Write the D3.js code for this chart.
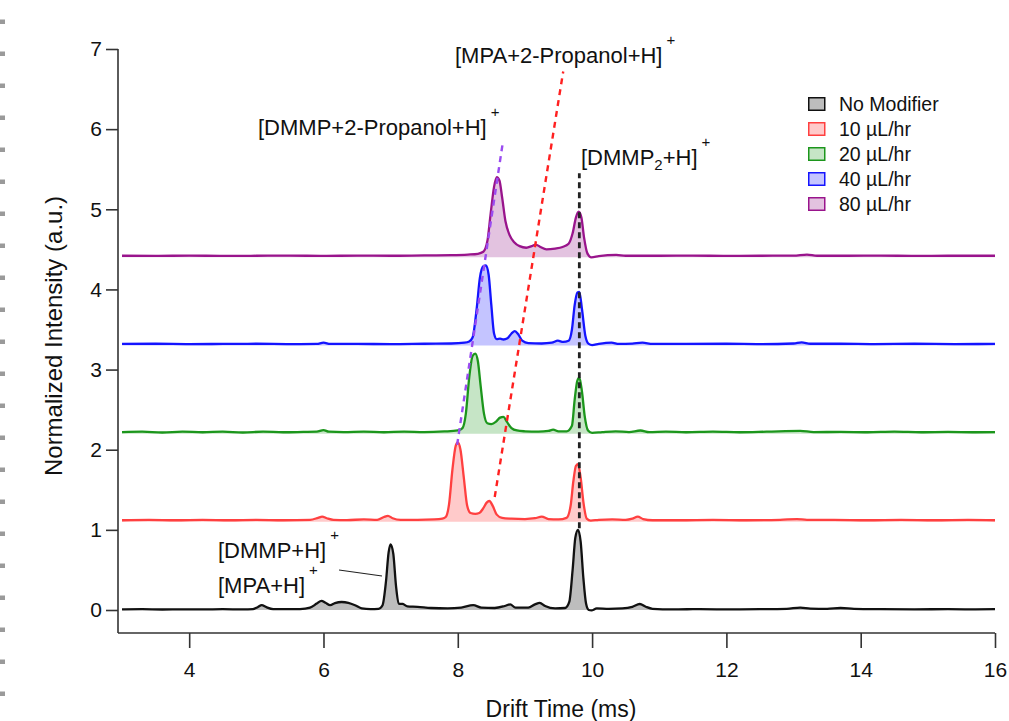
<!DOCTYPE html>
<html>
<head>
<meta charset="utf-8">
<script src="https://cdn.jsdelivr.net/npm/d3@7"></script>
<style>
  body { margin: 0; background: #fff; }
  svg { display: block; }
  text { font-family: "Liberation Sans", Arial, Helvetica, sans-serif; fill: #111; }
</style>
</head>
<body>
<svg id="chart" width="1009" height="721"></svg>
<script>
// ---- data -------------------------------------------------------------
const seriesNames = ["No Modifier", "10 µL/hr", "20 µL/hr", "40 µL/hr", "80 µL/hr"];
// vertical offset of each trace (normalized intensity units)
const offsets = [0, 1.1, 2.2, 3.3, 4.4];
const xTicks = [4, 6, 8, 10, 12, 14, 16];
const yTicks = [0, 1, 2, 3, 4, 5, 6, 7];

// [drift time (ms), intensity above the trace offset]
const noModifier = [[3.0,0.008],[3.3,0.01],[3.6,0.006],[3.9,0.009],[4.2,0.007],[4.5,0.01],[4.8,0.008],[4.95,0.012],[5.02,0.035],[5.08,0.06],[5.15,0.035],[5.25,0.012],[5.45,0.01],[5.65,0.012],[5.8,0.03],[5.9,0.08],[5.97,0.115],[6.03,0.09],[6.1,0.06],[6.17,0.085],[6.27,0.1],[6.37,0.09],[6.47,0.06],[6.57,0.02],[6.7,0.012],[6.82,0.015],[6.88,0.06],[6.93,0.35],[6.97,0.72],[7.0,0.82],[7.04,0.7],[7.08,0.3],[7.12,0.08],[7.18,0.075],[7.25,0.045],[7.4,0.04],[7.6,0.025],[7.85,0.02],[8.05,0.03],[8.23,0.06],[8.35,0.03],[8.55,0.025],[8.7,0.05],[8.78,0.07],[8.86,0.03],[9.05,0.03],[9.15,0.07],[9.22,0.09],[9.3,0.05],[9.45,0.02],[9.6,0.025],[9.66,0.1],[9.71,0.5],[9.75,0.9],[9.79,1.0],[9.83,0.85],[9.87,0.4],[9.91,0.08],[9.95,0.0],[9.99,-0.005],[10.07,0.02],[10.25,0.015],[10.45,0.02],[10.6,0.04],[10.71,0.075],[10.8,0.04],[10.9,0.015],[11.2,0.008],[11.6,0.01],[12.0,0.008],[12.5,0.01],[12.9,0.015],[13.1,0.03],[13.25,0.018],[13.5,0.015],[13.7,0.025],[13.9,0.015],[14.3,0.01],[14.8,0.008],[15.3,0.01],[15.7,0.008],[16.0,0.01]];

const flow10 = [[3.0,0.02],[3.4,0.025],[3.8,0.02],[4.2,0.025],[4.6,0.02],[5.0,0.025],[5.4,0.02],[5.8,0.025],[5.92,0.05],[5.98,0.065],[6.05,0.045],[6.15,0.025],[6.35,0.022],[6.6,0.03],[6.8,0.025],[6.9,0.06],[6.96,0.075],[7.03,0.045],[7.15,0.025],[7.4,0.025],[7.65,0.03],[7.77,0.04],[7.82,0.06],[7.87,0.22],[7.92,0.65],[7.97,0.95],[8.0,0.99],[8.04,0.9],[8.09,0.55],[8.14,0.2],[8.19,0.11],[8.26,0.1],[8.32,0.11],[8.38,0.17],[8.43,0.24],[8.47,0.26],[8.52,0.2],[8.58,0.09],[8.66,0.05],[8.8,0.04],[9.0,0.035],[9.15,0.045],[9.25,0.065],[9.35,0.035],[9.5,0.03],[9.62,0.05],[9.68,0.2],[9.72,0.5],[9.76,0.7],[9.79,0.72],[9.83,0.55],[9.87,0.25],[9.92,0.04],[9.98,0.015],[10.1,0.025],[10.3,0.03],[10.5,0.025],[10.6,0.04],[10.68,0.065],[10.76,0.035],[10.9,0.02],[11.3,0.02],[11.8,0.025],[12.3,0.02],[12.8,0.025],[13.05,0.035],[13.2,0.025],[13.6,0.025],[14.1,0.02],[14.6,0.025],[15.1,0.02],[15.6,0.025],[16.0,0.02]];

const flow20 = [[3.0,0.02],[3.3,0.025],[3.6,0.015],[3.9,0.025],[4.2,0.018],[4.5,0.025],[4.8,0.015],[5.1,0.025],[5.4,0.018],[5.7,0.022],[5.9,0.025],[6.0,0.045],[6.08,0.025],[6.3,0.02],[6.6,0.025],[6.9,0.018],[7.2,0.025],[7.5,0.02],[7.8,0.028],[8.0,0.04],[8.07,0.07],[8.12,0.25],[8.17,0.7],[8.22,0.97],[8.26,1.0],[8.3,0.9],[8.34,0.6],[8.39,0.25],[8.44,0.13],[8.5,0.12],[8.57,0.15],[8.63,0.2],[8.68,0.21],[8.73,0.15],[8.8,0.07],[8.88,0.04],[9.0,0.03],[9.2,0.025],[9.35,0.035],[9.42,0.05],[9.5,0.03],[9.62,0.03],[9.7,0.1],[9.74,0.42],[9.78,0.66],[9.81,0.7],[9.85,0.52],[9.89,0.22],[9.94,0.04],[10.0,0.01],[10.15,0.02],[10.35,0.03],[10.55,0.02],[10.72,0.04],[10.85,0.02],[11.1,0.025],[11.4,0.018],[11.8,0.025],[12.2,0.018],[12.6,0.025],[13.1,0.035],[13.3,0.02],[13.7,0.022],[14.1,0.018],[14.5,0.025],[14.9,0.018],[15.3,0.022],[15.7,0.018],[16.0,0.02]];

const flow40 = [[3.0,0.02],[3.5,0.022],[4.0,0.018],[4.5,0.02],[5.0,0.022],[5.5,0.018],[5.9,0.02],[6.0,0.035],[6.1,0.02],[6.5,0.02],[7.0,0.018],[7.5,0.022],[7.9,0.025],[8.1,0.035],[8.17,0.05],[8.22,0.1],[8.28,0.45],[8.33,0.85],[8.38,0.99],[8.42,1.0],[8.46,0.88],[8.5,0.5],[8.54,0.15],[8.58,0.08],[8.63,0.085],[8.68,0.075],[8.74,0.09],[8.8,0.15],[8.85,0.18],[8.9,0.14],[8.96,0.06],[9.05,0.03],[9.25,0.025],[9.4,0.035],[9.49,0.06],[9.57,0.045],[9.65,0.06],[9.7,0.2],[9.74,0.5],[9.78,0.66],[9.81,0.67],[9.85,0.45],[9.9,0.12],[9.95,0.02],[10.0,0.005],[10.1,0.02],[10.29,0.035],[10.4,0.02],[10.6,0.025],[10.75,0.035],[10.9,0.02],[11.4,0.02],[12.0,0.022],[12.5,0.018],[13.0,0.025],[13.12,0.04],[13.25,0.022],[13.7,0.022],[14.2,0.018],[14.8,0.022],[15.4,0.018],[16.0,0.02]];

const flow80 = [[3.0,0.02],[3.5,0.018],[4.0,0.022],[4.5,0.018],[5.0,0.02],[5.5,0.022],[6.0,0.018],[6.5,0.022],[7.0,0.02],[7.5,0.025],[7.9,0.028],[8.15,0.035],[8.3,0.045],[8.38,0.07],[8.44,0.2],[8.49,0.55],[8.54,0.88],[8.58,1.0],[8.62,0.96],[8.66,0.75],[8.71,0.45],[8.77,0.28],[8.84,0.19],[8.92,0.14],[9.02,0.12],[9.1,0.14],[9.16,0.16],[9.23,0.13],[9.32,0.1],[9.45,0.11],[9.56,0.13],[9.65,0.17],[9.71,0.3],[9.76,0.5],[9.8,0.57],[9.84,0.5],[9.88,0.25],[9.93,0.05],[9.99,0.0],[10.1,0.015],[10.36,0.03],[10.5,0.02],[11.0,0.02],[11.5,0.022],[12.0,0.018],[12.5,0.02],[13.0,0.022],[13.2,0.035],[13.35,0.02],[13.8,0.02],[14.3,0.022],[14.8,0.018],[15.3,0.02],[16.0,0.02]];

const traces = [noModifier, flow10, flow20, flow40, flow80];

// guide lines through the ion peaks: [x1, y1, x2, y2] in data units
const dmmpPropanolGuide = [7.99, 2.06, 8.67, 5.83];
const mpaPropanolGuide  = [8.55, 1.41, 9.57, 6.72];
const dimerGuide        = [9.81, 1.02, 9.81, 5.45];

// ---- styling ----------------------------------------------------------
const lineColors = ["#111111", "#ff4040", "#1c961c", "#1414ff", "#99148c"];
const fillColors = ["#bdbdbd", "#ffcaca", "#c6e5c6", "#c4c4ff", "#e3c3e0"];

const svg = d3.select("#chart");

// dashed page edge at the left
svg.append("line")
  .attr("x1", 2.5).attr("x2", 2.5).attr("y1", 19.5).attr("y2", 721)
  .attr("stroke", "#9a9a9a").attr("stroke-width", 5)
  .attr("stroke-dasharray", "4.5,27.5");

const x = d3.scaleLinear().domain([2.94, 16]).range([118, 995]);
const y = d3.scaleLinear().domain([-0.287, 7]).range([633, 49]);

// ---- axes -------------------------------------------------------------
const axisColor = "#333";
const gx = svg.append("g").attr("transform", "translate(0,633)")
  .call(d3.axisBottom(x).tickValues(xTicks).tickSize(15).tickPadding(14).tickSizeOuter(0));
const gy = svg.append("g").attr("transform", "translate(118,0)")
  .call(d3.axisLeft(y).tickValues(yTicks).tickSize(12).tickPadding(4).tickSizeOuter(0));
[gx, gy].forEach(g => {
  g.attr("font-size", null).attr("font-family", null);
  g.select(".domain").attr("stroke", axisColor).attr("stroke-width", 1.6);
  g.selectAll(".tick line").attr("stroke", axisColor).attr("stroke-width", 1.6);
  g.selectAll(".tick text").style("font-size", "21px").attr("fill", "#111");
});
// y axis line spans the full tick range down to the x axis
gy.select(".domain").attr("d", `M0,${y(7)}V633`);
gx.select(".domain").attr("d", `M118,0H${x(16)}`);

svg.append("text").attr("transform", "rotate(-90)")
  .attr("x", -336).attr("y", 62).attr("text-anchor", "middle")
  .style("font-size", "24px").text("Normalized Intensity (a.u.)");
svg.append("text").attr("x", 561).attr("y", 717).attr("text-anchor", "middle")
  .style("font-size", "23px").text("Drift Time (ms)");

// ---- traces -----------------------------------------------------------
const plot = svg.append("g");
traces.forEach((data, i) => {
  const off = offsets[i];
  const area = d3.area()
    .x(d => x(d[0])).y0(y(off)).y1(d => y(d[1] + off))
    .curve(d3.curveMonotoneX);
  const line = d3.line()
    .x(d => x(d[0])).y(d => y(d[1] + off))
    .curve(d3.curveMonotoneX);
  plot.append("path").datum(data).attr("d", area).attr("fill", fillColors[i]);
  plot.append("path").datum(data).attr("d", line)
    .attr("fill", "none").attr("stroke", lineColors[i])
    .attr("stroke-width", 2.3).attr("stroke-linejoin", "round");
});

// ---- dashed guides ----------------------------------------------------
function guide(g, color, width, dash) {
  svg.append("line")
    .attr("x1", x(g[0])).attr("y1", y(g[1]))
    .attr("x2", x(g[2])).attr("y2", y(g[3]))
    .attr("stroke", color).attr("stroke-width", width)
    .attr("stroke-dasharray", dash);
}
guide(dmmpPropanolGuide, "#9a4cf0", 2.4, "6,5");
guide(mpaPropanolGuide, "#ff2020", 2.4, "6,5");
guide(dimerGuide, "#222", 2.8, "6,4");

// ---- peak labels ------------------------------------------------------
function ionLabel(px, py, parts) {
  const t = svg.append("text").attr("x", px).attr("y", py).style("font-size", "22px");
  parts.forEach(p => {
    const s = t.append("tspan").text(p.t);
    if (p.sub) s.style("font-size", "15px").attr("dy", 5);
    if (p.back) s.attr("dy", -5);
    if (p.sup) s.style("font-size", "15px").attr("dy", -18).attr("dx", 4);
  });
}
ionLabel(455, 63, [{t: "[MPA+2-Propanol+H]"}, {t: "+", sup: true}]);
ionLabel(258, 135, [{t: "[DMMP+2-Propanol+H]"}, {t: "+", sup: true}]);
ionLabel(581, 165, [{t: "[DMMP"}, {t: "2", sub: true}, {t: "+H]", back: true}, {t: "+", sup: true}]);
ionLabel(218, 558, [{t: "[DMMP+H]"}, {t: "+", sup: true}]);
ionLabel(218, 593, [{t: "[MPA+H]"}, {t: "+", sup: true}]);

// leader from the monomer labels to the 7 ms peak
svg.append("line")
  .attr("x1", 339).attr("y1", 570).attr("x2", 382).attr("y2", 576)
  .attr("stroke", "#222").attr("stroke-width", 1.2);

// ---- legend -----------------------------------------------------------
const legend = svg.append("g").attr("transform", "translate(808,97)");
seriesNames.forEach((name, i) => {
  const row = legend.append("g").attr("transform", `translate(0,${i * 25})`);
  row.append("rect").attr("x", 0.75).attr("y", 0.75).attr("width", 16).attr("height", 12.5)
    .attr("fill", fillColors[i]).attr("stroke", lineColors[i]).attr("stroke-width", 1.5);
  row.append("text").attr("x", 31).attr("y", 13.5)
    .style("font-size", "19.5px").text(name);
});
</script>
</body>
</html>
